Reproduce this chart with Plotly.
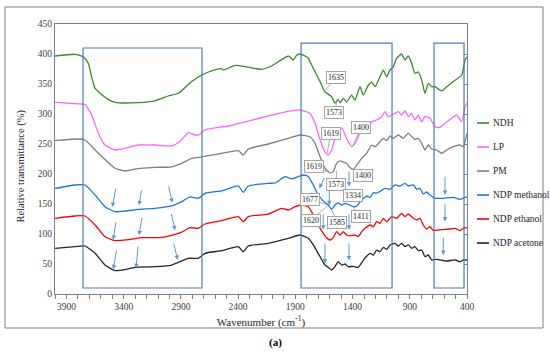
import plotly.graph_objects as go

# ---------------- data ----------------
series_names = ["NDH", "LP", "PM", "NDP methanol", "NDP ethanol", "NDP acetone"]

ndh_wn = [4000, 3825, 3753, 3709, 3680, 3650, 3563, 3476, 3272, 3126, 3010, 2922, 2806, 2718, 2631, 2544, 2530, 2427,
          2311, 2194, 2107, 1961, 1918, 1888, 1859, 1830, 1787, 1743, 1684, 1641, 1583, 1554, 1525, 1510, 1481, 1452,
          1408, 1379, 1335, 1306, 1262, 1233, 1203, 1160, 1131, 1102, 1073, 1044, 1014, 971, 942, 913, 884, 855, 826,
          796, 767, 738, 709, 680, 621, 578, 520, 446, 417, 400]
ndh_val = [396.7, 399.5, 395.5, 384.5, 362, 343, 328, 319.5, 319, 322, 330, 334.5, 354, 365, 372, 375.5, 373, 381,
           378, 374.5, 380, 396.7, 390, 398, 400, 398, 393, 376, 354, 337, 329, 318, 324.5, 318.5, 326, 320,
           331.5, 323, 345.5, 331.5, 348, 353, 345.5, 362, 373, 362, 373, 378.5, 393, 400, 390, 396.7, 384.5, 368, 370,
           356.7, 334.5, 351, 345.5, 345.5, 338.5, 345.5, 354, 365, 390, 395]

lp_wn = [4000, 3767, 3738, 3680, 3621, 3563, 3476, 3388, 3272, 3126, 2980, 2908, 2835, 2777, 2748, 2689, 2602, 2486,
         2311, 2136, 1975, 1859, 1772, 1728, 1684, 1641, 1612, 1583, 1539, 1495, 1452, 1408, 1379, 1335, 1291, 1262,
         1233, 1189, 1146, 1116, 1087, 1058, 1029, 1000, 971, 942, 913, 884, 855, 826, 796, 767, 723, 680, 636, 592,
         534, 490, 447, 417, 400]
lp_val = [319.5, 316.7, 316, 298.3, 268, 248.3, 240, 243, 248.3, 248.3, 246.7, 254, 269, 265, 265, 273.3, 276.7, 280,
          288.3, 296.7, 304, 306.7, 301, 284.5, 256.7, 237, 231.7, 240, 268, 276.7, 259.5, 245.5, 251, 268, 276.7, 273.3,
          287, 290, 295.5, 304, 295.5, 298.3, 301, 304, 298.3, 305, 295.5, 301, 290, 298.3, 287, 295.5, 293, 279, 277.5,
          284.5, 293, 298.3, 287, 312, 318]

pm_wn = [4000, 3825, 3738, 3650, 3563, 3476, 3388, 3301, 3126, 2980, 2893, 2806, 2718, 2544, 2398, 2355, 2311, 2136,
         1961, 1859, 1772, 1728, 1684, 1641, 1597, 1568, 1539, 1510, 1481, 1452, 1423, 1394, 1364, 1320, 1277, 1233,
         1203, 1175, 1131, 1102, 1073, 1044, 1000, 956, 913, 884, 855, 826, 796, 767, 738, 709, 665, 621, 578, 520,
         461, 432, 400]
pm_val = [255.5, 258.3, 256.7, 240, 224, 209.5, 205, 208.3, 211, 212, 217.8, 226, 228.5, 234.5, 239, 231.7, 241.7, 250,
          259.5, 265, 262, 251, 229, 209.5, 202, 204, 218, 221.7, 220, 217.8, 211, 207.8, 215, 226, 234.5, 248.3,
          245.5, 250.5, 259.5, 255.5, 263.3, 259.5, 265, 259.5, 268, 262.5, 257.8, 259.5, 251, 240, 248.3, 241.7, 240,
          234.5, 240, 245.5, 248.3, 245.5, 268]

met_wn = [4000, 3825, 3738, 3650, 3563, 3476, 3388, 3272, 3126, 2980, 2893, 2820, 2748, 2689, 2544, 2398, 2355, 2311,
          2136, 2078, 1990, 1932, 1859, 1830, 1787, 1743, 1699, 1656, 1612, 1583, 1554, 1525, 1495, 1466, 1423, 1394,
          1364, 1320, 1277, 1247, 1218, 1189, 1160, 1116, 1073, 1029, 985, 942, 913, 869, 840, 811, 782, 753, 723,
          680, 607, 520, 461, 432, 400]
met_val = [176, 181.7, 181.7, 165, 145.5, 137.2, 138.3, 141, 142.8, 146.7, 153.9, 162, 159.5, 167.8, 172, 180, 169.5, 180,
           184.5, 185, 195.5, 192, 196.7, 198.3, 196, 181.7, 165, 155, 148.3, 141, 148.3, 152, 148.3, 151, 148.3, 145.5,
           146.7, 156.7, 163.3, 161, 169, 168, 171, 176, 174.5, 181.7, 180, 184.5, 180, 181.7, 174.5, 176, 166.7, 170, 165,
           159.5, 159.5, 161, 157.8, 160, 162]

eth_wn = [4000, 3825, 3738, 3650, 3563, 3476, 3359, 3243, 3068, 2951, 2893, 2820, 2748, 2689, 2544, 2398, 2355, 2311,
          2136, 2019, 1961, 1903, 1845, 1787, 1743, 1699, 1656, 1627, 1597, 1568, 1539, 1510, 1481, 1452, 1423, 1379,
          1350, 1320, 1291, 1247, 1218, 1189, 1160, 1131, 1102, 1058, 1014, 971, 942, 913, 869, 840, 811, 782, 753,
          723, 694, 650, 578, 505, 461, 432, 400]
eth_val = [126.2, 130, 130, 115, 95.5, 88.9, 90.5, 93.9, 94.4, 99.5, 103, 110.5, 109.5, 116.7, 122.2, 128.9, 120.5, 129,
           133.3, 142.8, 140, 145.5, 148.3, 145.5, 131.7, 115, 101.2, 93.9, 90, 93.9, 103.9, 98.3, 103.9, 98.3, 97, 98.3,
           95.5, 103.9, 109.5, 115, 112.2, 120.5, 117.8, 126.2, 120.5, 128.9, 126.2, 134.4, 129, 133.3, 126.2, 123.4,
           126.2, 115, 108.3, 112.2, 105.6, 106.7, 107.8, 109.5, 105.6, 109.5, 110.5]

ace_wn = [4000, 3825, 3738, 3650, 3563, 3476, 3388, 3301, 3126, 2980, 2908, 2835, 2748, 2689, 2544, 2398, 2355, 2311,
          2136, 1961, 1859, 1787, 1743, 1684, 1641, 1612, 1583, 1554, 1525, 1495, 1466, 1437, 1394, 1350, 1320, 1291,
          1247, 1218, 1189, 1160, 1131, 1102, 1073, 1029, 1000, 971, 942, 913, 884, 855, 826, 796, 767, 738, 709, 665,
          578, 505, 461, 432, 400]
ace_val = [76.2, 79, 80, 67.8, 48.3, 38.9, 40.6, 44.4, 45.5, 48.3, 53.9, 59.5, 59.5, 67.8, 72.2, 78.9, 70.5, 80,
           84.5, 92.8, 98.3, 92.8, 81.7, 62.2, 48.3, 44.4, 40, 45.5, 53.9, 48.3, 50, 45.5, 46.1, 44.4, 52.2, 60,
           67.8, 65, 73.3, 70.5, 77.8, 74.4, 81.7, 84.5, 80, 84.5, 78.9, 81.7, 76.2, 78.9, 72.2, 73.3, 62.2, 65, 56.7,
           57.8, 55, 56.7, 53.9, 56.7, 56.7]

series_wn = [ndh_wn, lp_wn, pm_wn, met_wn, eth_wn, ace_wn]
series_val = [ndh_val, lp_val, pm_val, met_val, eth_val, ace_val]
colors = ["#3b8a2a", "#ff66ff", "#7f7f7f", "#1f74d6", "#ff0000", "#262626"]

# peak call-outs: (text, target wavenumber, target value, label wavenumber, label value)
peak_labels = [
    ("1635", 1650, 337, 1543, 361),
    ("1573", 1538, 320, 1558, 303),
    ("1619", 1621, 235, 1590, 268),
    ("1400", 1394, 248, 1328, 278),
    ("1619", 1597, 202, 1735, 212),
    ("1573", 1538, 206, 1546, 183),
    ("1400", 1394, 208, 1313, 197),
    ("1677", 1623, 149, 1772, 157),
    ("1334", 1334, 154, 1393, 165),
    ("1620", 1612, 148, 1765, 123),
    ("1585", 1585, 141, 1532, 120),
    ("1411", 1411, 148, 1328, 129),
]

# blue arrows: (tail wn, tail val, head wn, head val)
blue_arrows = [
    (3467, 178, 3499, 145), (3242, 175, 3266, 148), (3010, 182, 2975, 152),
    (3467, 122, 3491, 90), (3237, 130, 3266, 98), (2986, 136, 2951, 106),
    (3461, 75, 3491, 41), (3272, 82, 3292, 43), (2966, 87, 2928, 57),
    (1641, 196, 1690, 176), (1603, 176, 1603, 148), (1431, 207, 1431, 179),
    (1656, 135, 1656, 107), (1431, 135, 1431, 107),
    (1641, 87, 1641, 51), (1431, 87, 1431, 56),
    (592, 198, 592, 165), (592, 152, 592, 121), (607, 96, 607, 65),
]

# highlighted regions: (wn from, wn to, val bottom, val top)
regions = [(3755, 2716, 10, 410), (1850, 1055, 10, 418), (688, 426, 10, 418)]

for w, v in zip(series_wn, series_val):
    assert len(w) == len(v), (len(w), len(v))

# ---------------- figure ----------------
FONT = "Liberation Serif, Times New Roman, serif"
fig = go.Figure()

for i, (name, w, v, c) in enumerate(zip(series_names, series_wn, series_val, colors)):
    fig.add_trace(go.Scatter(
        x=w, y=v, mode="lines", name=name, showlegend=False,
        line=dict(color=c, width=1.3, shape="spline", smoothing=0.5),
    ))

# invisible trace to hold the right-hand tick axis
fig.add_trace(go.Scatter(x=[None], y=[None], yaxis="y2", showlegend=False, hoverinfo="skip"))

for x0, x1, y0, y1 in regions:
    fig.add_shape(type="rect", xref="x", yref="y", x0=x0, x1=x1, y0=y0, y1=y1,
                  line=dict(color="#4a7ebb", width=1.2), fillcolor="rgba(0,0,0,0)", layer="above")

for tx, ty, hx, hy in blue_arrows:
    fig.add_annotation(x=hx, y=hy, ax=tx, ay=ty, xref="x", yref="y", axref="x", ayref="y",
                       text="", showarrow=True, arrowhead=2, arrowsize=0.9, arrowwidth=1,
                       arrowcolor="#5b9bd5")

for txt, px, py, lx, ly in peak_labels:
    fig.add_annotation(x=px, y=py, ax=lx, ay=ly, xref="x", yref="y", axref="x", ayref="y",
                       text=txt, showarrow=True, arrowhead=0, arrowwidth=0.8, arrowcolor="#9a9a9a",
                       bgcolor="white", bordercolor="#a6a6a6", borderwidth=1, borderpad=1,
                       font=dict(family=FONT, size=8, color="#262626"))

# legend (drawn beside the plot, short line samples like the reference)
legend_top, legend_step = 0.6333, 0.0889
for i, (name, c) in enumerate(zip(series_names, colors)):
    yy = legend_top - i * legend_step
    fig.add_shape(type="line", xref="paper", yref="paper", x0=1.0243, x1=1.0534, y0=yy, y1=yy,
                  line=dict(color=c, width=1.6))
    fig.add_annotation(text=name, xref="paper", yref="paper", x=1.0583, y=yy, xanchor="left",
                       yanchor="middle", showarrow=False,
                       font=dict(family=FONT, size=9.5, color="#262626"))

# y-axis title
fig.add_annotation(text="Relative transmittance (%)", xref="paper", yref="paper", x=-0.0825, y=0.472,
                   textangle=-90, showarrow=False, xanchor="center", yanchor="middle",
                   font=dict(family=FONT, size=10.5, color="#262626"))

# outer frame
fig.add_shape(type="rect", xref="paper", yref="paper", x0=-0.1214, x1=1.1845, y0=-0.1259, y1=1.063,
              line=dict(color="#808080", width=1))

fig.add_annotation(text="<b>(a)</b>", xref="paper", yref="paper", x=0.534, y=-0.181,
                   xanchor="center", yanchor="middle",
                   showarrow=False, font=dict(family=FONT, size=11, color="#000000"))

fig.update_layout(
    width=550, height=355,
    margin=dict(l=55, r=83, t=24, b=61, autoexpand=False),
    paper_bgcolor="white", plot_bgcolor="white",
    font=dict(family=FONT, size=9, color="#404040"),
    xaxis=dict(range=[4000, 400], tickmode="linear", tick0=400, dtick=500,
               ticks="outside", ticklen=4, tickcolor="#808080", showgrid=False, zeroline=False,
               minor=dict(tick0=400, dtick=100, ticks="outside", ticklen=4, tickcolor="#808080", showgrid=False),
               showline=True, linecolor="#808080", linewidth=1, mirror=True,
               title=dict(text="Wavenumber (cm<sup>-1</sup>)", font=dict(family=FONT, size=11, color="#262626"), standoff=6),
               tickfont=dict(family=FONT, size=9.5, color="#404040")),
    yaxis=dict(range=[0, 450], dtick=50, ticks="", showgrid=False, zeroline=False,
               showline=True, linecolor="#808080", linewidth=1, mirror=True,
               tickfont=dict(family=FONT, size=9.5, color="#404040")),
    yaxis2=dict(overlaying="y", side="right", range=[0, 450], dtick=50, ticks="inside", ticklen=3,
                tickcolor="#808080", showticklabels=False, showgrid=False, zeroline=False, showline=False),
    showlegend=False,
)

fig.write_html("out.html", config={"displayModeBar": False},
               post_script="document.body.style.margin='0px';")
